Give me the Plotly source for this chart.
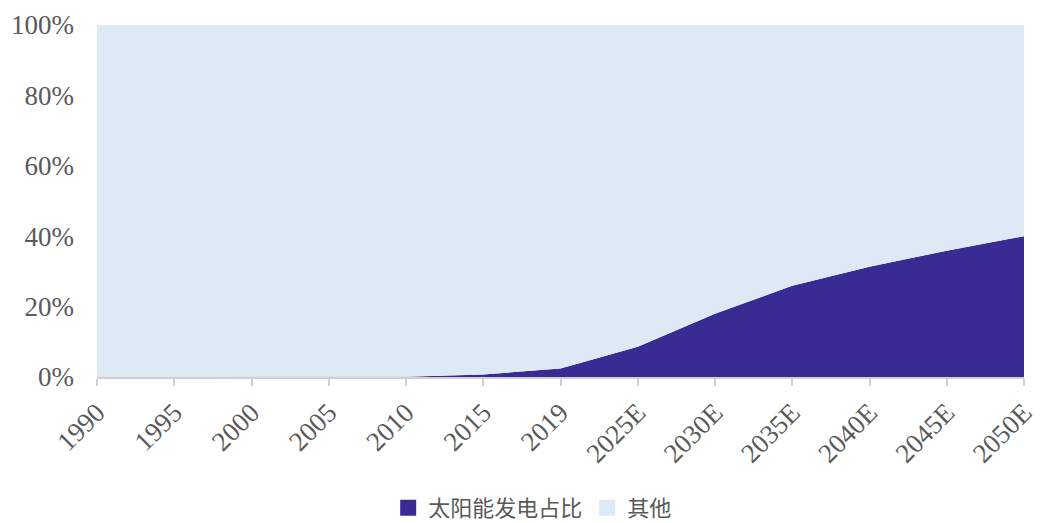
import plotly.graph_objects as go

years = ["1990", "1995", "2000", "2005", "2010", "2015", "2019",
         "2025E", "2030E", "2035E", "2040E", "2045E", "2050E"]
solar_share = [0.0, 0.0, 0.0, 0.0, 0.1, 0.7, 2.4, 8.6, 18.0, 25.9, 31.3, 35.9, 40.0]
other_share = [100 - v for v in solar_share]

tick_vals = [0, 20, 40, 60, 80, 100]
tick_text = ["0%", "20%", "40%", "60%", "80%", "100%"]

SOLAR_COLOR = "#382b94"
OTHER_COLOR = "#dde9f5"

fig = go.Figure()
fig.add_trace(go.Scatter(
    x=years, y=solar_share, name="太阳能发电占比",
    mode="lines", stackgroup="one", line=dict(width=0, color=SOLAR_COLOR),
    fillcolor=SOLAR_COLOR, showlegend=False,
))
fig.add_trace(go.Scatter(
    x=years, y=other_share, name="其他",
    mode="lines", stackgroup="one", line=dict(width=0, color=OTHER_COLOR),
    fillcolor=OTHER_COLOR, showlegend=False,
))

# legend entries with square swatches
for name, color in [("太阳能发电占比", SOLAR_COLOR), ("其他", OTHER_COLOR)]:
    fig.add_trace(go.Scatter(
        x=[None], y=[None], name=name, mode="markers",
        marker=dict(symbol="square", size=16, color=color),
    ))

# page body adds an 8px margin, so the figure is sized to fit inside it
fig.update_layout(
    width=1034, height=515,
    margin=dict(l=89, r=18, t=17, b=146, autoexpand=False),
    paper_bgcolor="white", plot_bgcolor="white",
    font=dict(family="Liberation Serif, Noto Sans CJK SC", color="#595959", size=27),
    showlegend=True,
    legend=dict(orientation="h", x=0.47, xanchor="center", y=-0.372, yanchor="middle",
                font=dict(family="Noto Sans CJK SC", size=22, color="#595959"),
                traceorder="normal", itemwidth=30),
)
fig.update_xaxes(
    type="category", range=[0, 12], tickangle=-45, automargin=False,
    showline=True, linecolor="#d0d0d0", linewidth=2,
    ticks="outside", ticklen=7, tickcolor="#d0d0d0", tickwidth=2,
    showgrid=False, tickfont=dict(size=27),
)
fig.update_yaxes(
    range=[0, 100], tickvals=tick_vals, ticktext=tick_text, automargin=False,
    showgrid=False, zeroline=False, showline=False, ticks="",
    ticklabelstandoff=22,
)

fig.write_html("out.html")
